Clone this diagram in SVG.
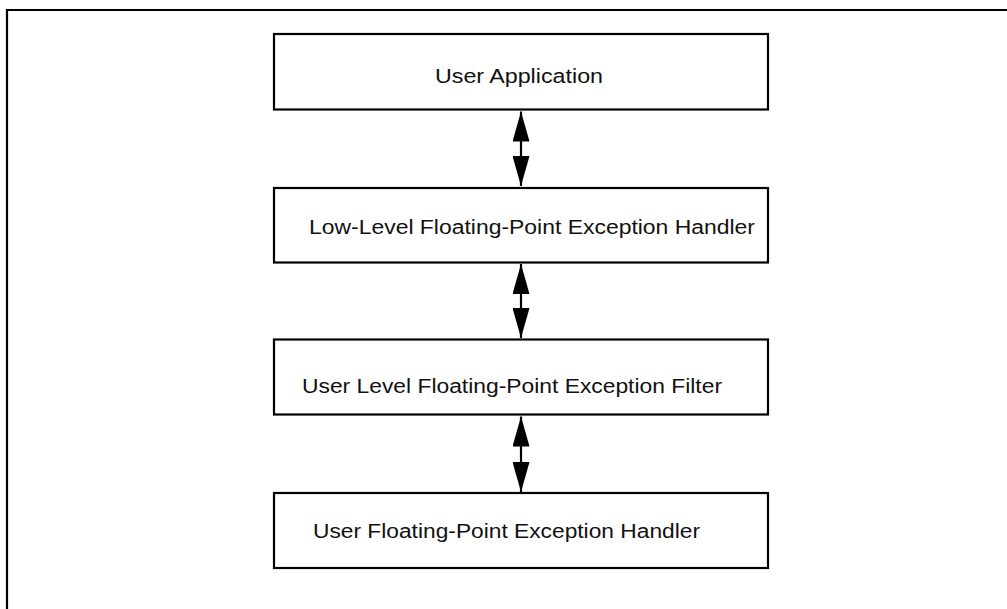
<svg xmlns="http://www.w3.org/2000/svg" width="1007" height="609" viewBox="0 0 1007 609">
<style>
.box{fill:#fff;stroke:#000;stroke-width:2.2}
.lbl{font-family:"Liberation Sans",Arial,sans-serif;font-size:19.5px;fill:#111}
.conn{stroke:#000;stroke-width:2.2;fill:none;marker-start:url(#ah);marker-end:url(#ah)}
.frame{stroke:#000;stroke-width:2.2;fill:none}
</style>
<defs>
<marker id="ah" markerUnits="userSpaceOnUse" markerWidth="31" markerHeight="17" refX="30" refY="8.5" orient="auto-start-reverse" viewBox="0 0 31 17">
<path d="M0,0 L30,8.5 L0,17 z" fill="#000"/>
</marker>
</defs>
<rect width="1007" height="609" fill="#fff"/>
<path class="frame" d="M7,609 L7,10 L1007,10"/>
<g id="n1">
<rect class="box" x="274" y="34" width="494" height="75.5"/>
<text class="lbl" x="435" y="83" textLength="168" lengthAdjust="spacingAndGlyphs">User Application</text>
</g>
<g id="n2">
<rect class="box" x="274" y="188" width="494" height="74.5"/>
<text class="lbl" x="309" y="234" textLength="446" lengthAdjust="spacingAndGlyphs">Low-Level Floating-Point Exception Handler</text>
</g>
<g id="n3">
<rect class="box" x="274" y="339.5" width="494" height="75"/>
<text class="lbl" x="302" y="393" textLength="420" lengthAdjust="spacingAndGlyphs">User Level Floating-Point Exception Filter</text>
</g>
<g id="n4">
<rect class="box" x="274" y="493" width="494" height="75"/>
<text class="lbl" x="313" y="538" textLength="387" lengthAdjust="spacingAndGlyphs">User Floating-Point Exception Handler</text>
</g>
<g id="connectors">
<line class="conn" x1="521" y1="111.5" x2="521" y2="186"/>
<line class="conn" x1="521" y1="264" x2="521" y2="338"/>
<line class="conn" x1="521" y1="416.5" x2="521" y2="492"/>
</g>
</svg>
